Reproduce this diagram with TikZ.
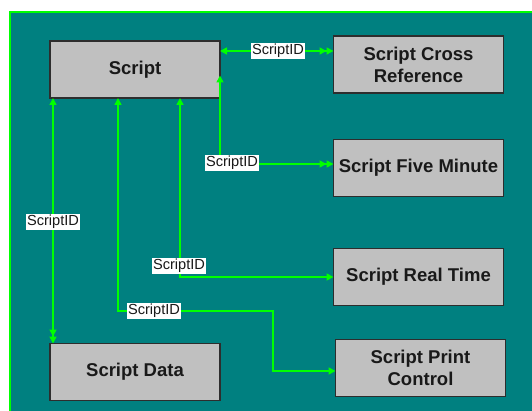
\documentclass[tikz,border=0pt]{standalone}
\usepackage{fontspec}
\setmainfont{Liberation Sans}
\usetikzlibrary{arrows.meta}
\definecolor{bgteal}{RGB}{0,128,128}
\definecolor{boxgray}{RGB}{192,192,192}
\definecolor{boxedge}{RGB}{45,45,45}
\definecolor{linkgreen}{RGB}{0,255,0}
\definecolor{txt}{RGB}{25,25,25}
\begin{document}
\begin{tikzpicture}[x=1pt,y=-1pt,
  >={Triangle[length=7pt,width=7pt]},
  table/.style={draw=boxedge, fill=boxgray, line width=1.2pt, outer sep=0pt,
    minimum width=170pt, minimum height=57pt, inner sep=0pt,
    align=center, text=txt, font=\bfseries\fontsize{18.5}{22}\selectfont},
  link/.style={draw=linkgreen, line width=1.6pt},
  idlabel/.style={fill=white, text=txt, inner sep=1pt,
    font=\fontsize{14.6}{16}\selectfont}]
\useasboundingbox (0,0) rectangle (532,411);

% backdrop
\fill[bgteal] (10,12) rectangle (532,411);
\draw[linkgreen, line width=1.2pt] (10,411) -- (10,12) -- (532,12);

% tables
\node[table] (script)   at (135,69.5)  {Script};
\node[table] (xref)     at (418.5,64.5) {Script Cross\\Reference};
\node[table] (fivemin)  at (418.5,168) {Script Five Minute};
\node[table] (realtime) at (418.5,277) {Script Real Time};
\node[table] (printctl) at (420.5,368) {Script Print\\Control};
\node[table] (sdata)    at (135,372)   {Script Data};

% relationships
\coordinate (a1) at ([yshift=18.5pt]script.east);
\draw[link,<->>] (a1) -- (a1 -| xref.west);

\draw[link,<->>] ([yshift=-6pt]script.east) |- ([yshift=4pt]fivemin.west);

\draw[link,<->] ([xshift=130pt]script.south west) |- (realtime.west);

\coordinate (k4) at (273,311);
\draw[link,<->] ([xshift=68pt]script.south west) |- (k4) |- ([yshift=-3pt]printctl.west);

\draw[link,<->>] ([xshift=3pt]script.south west) -- ([xshift=3pt]sdata.north west);

% key labels
\node[idlabel] (l1) at (278,51)  {ScriptID};
\node[idlabel] (l2) at (232,163) {ScriptID};
\node[idlabel] (l3) at (179,266) {ScriptID};
\node[idlabel] (l4) at (154,311) {ScriptID};
\node[idlabel] (l5) at (53,222)  {ScriptID};
\end{tikzpicture}
\end{document}
